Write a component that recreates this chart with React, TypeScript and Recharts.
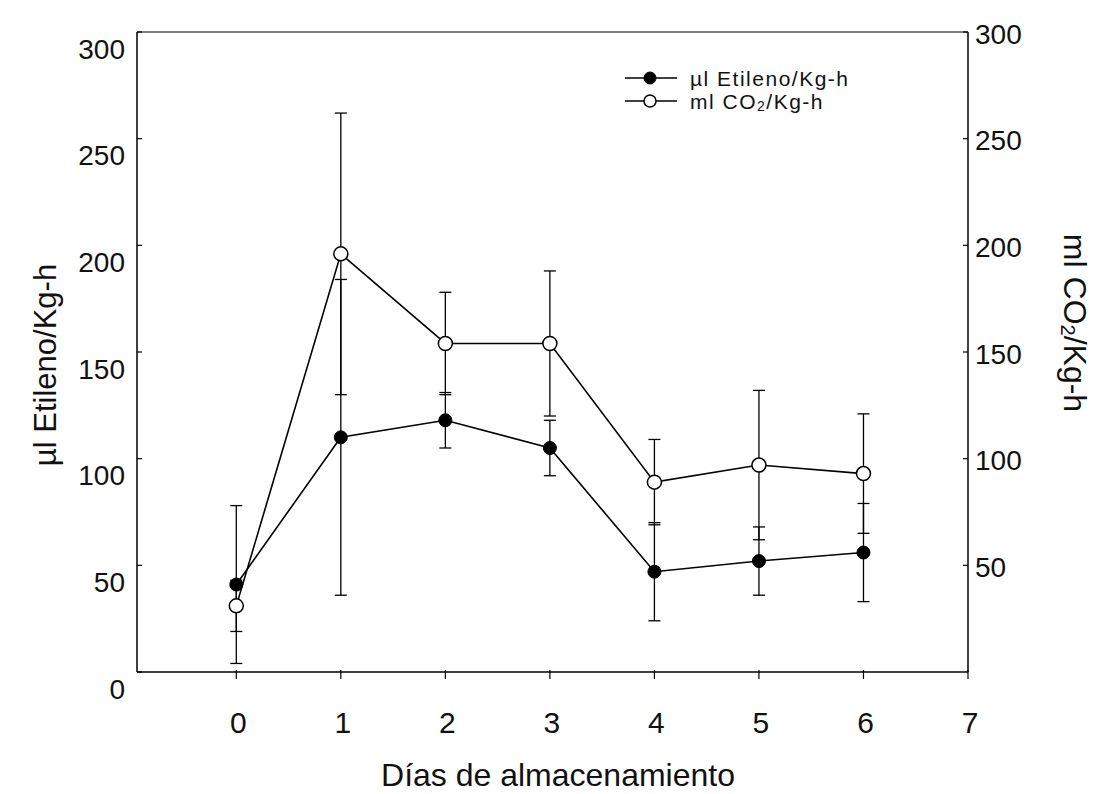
import React from 'react';
import { ComposedChart, Line, XAxis, YAxis, ErrorBar, ReferenceLine } from 'recharts';

const days = [0, 1, 2, 3, 4, 5, 6];
const etileno = [41, 110, 118, 105, 47, 52, 56];
const etilenoErr = [37, 74, 13, 13, 23, 16, 23];
const co2 = [31, 196, 154, 154, 89, 97, 93];
const co2Err = [12, 66, 24, 34, 20, 35, 28];
const xTicks = [0, 1, 2, 3, 4, 5, 6, 7];
const leftTicks = [0, 50, 100, 150, 200, 250, 300];
const rightTicks = [50, 100, 150, 200, 250, 300];

const xTitle = 'Días de almacenamiento';
const leftTitle = 'µl Etileno/Kg-h';
const legendEtileno = 'µl Etileno/Kg-h';

const data = days.map((d, i) => ({
  day: d,
  etileno: etileno[i],
  etilenoErr: etilenoErr[i],
  co2: co2[i],
  co2Err: co2Err[i],
}));

const FONT = '"Liberation Sans", Arial, Helvetica, sans-serif';

const LeftTick = (props: any) => {
  const { x, y, payload } = props;
  return (
    <g>
      <line x1={x} y1={y} x2={x + 5} y2={y} stroke="#000" strokeWidth={1.2} />
      <text x={x - 12} y={y + 17} textAnchor="end" dominantBaseline="central" fontSize={28} fontFamily={FONT} fill="#111">
        {payload.value}
      </text>
    </g>
  );
};

const RightTick = (props: any) => {
  const { x, y, payload } = props;
  return (
    <g>
      <line x1={x - 5} y1={y} x2={x} y2={y} stroke="#000" strokeWidth={1.2} />
      <text x={x + 7} y={y + 2} textAnchor="start" dominantBaseline="central" fontSize={28} fontFamily={FONT} fill="#111">
        {payload.value}
      </text>
    </g>
  );
};

const BottomTick = (props: any) => {
  const { x, y, payload } = props;
  return (
    <g>
      <line x1={x} y1={y - 2} x2={x} y2={y + 7} stroke="#000" strokeWidth={1.2} />
      <text x={x + 2} y={y + 50} textAnchor="middle" dominantBaseline="central" fontSize={30} fontFamily={FONT} fill="#111">
        {payload.value}
      </text>
    </g>
  );
};

const Titles = () => (
  <g fontFamily={FONT} fill="#111">
    <text x={550} y={767} textAnchor="middle" dominantBaseline="central" fontSize={32}>
      {xTitle}
    </text>
    <text x={37} y={357} textAnchor="middle" dominantBaseline="central" fontSize={31} transform="rotate(-90 37 357)">
      {leftTitle}
    </text>
    <text x={1067} y={315} textAnchor="middle" dominantBaseline="central" fontSize={32} transform="rotate(90 1067 315)">
      <tspan>ml CO</tspan>
      <tspan dy={7} fontSize={20}>2</tspan>
      <tspan dy={-7}>/Kg-h</tspan>
    </text>
  </g>
);

const LegendBox = () => (
  <g fontFamily={FONT} fill="#111">
    <line x1={617} y1={70} x2={669} y2={70} stroke="#000" strokeWidth={1.5} />
    <circle cx={642} cy={70} r={6} fill="#000" stroke="#000" />
    <text x={682} y={70} dominantBaseline="central" fontSize={21} letterSpacing={1.5}>
      {legendEtileno}
    </text>
    <line x1={617} y1={93} x2={669} y2={93} stroke="#000" strokeWidth={1.5} />
    <circle cx={642} cy={93} r={6} fill="#fff" stroke="#000" strokeWidth={1.5} />
    <text x={682} y={93} dominantBaseline="central" fontSize={21} letterSpacing={1.5}>
      <tspan>ml CO</tspan>
      <tspan dy={5} fontSize={14}>2</tspan>
      <tspan dy={-5}>/Kg-h</tspan>
    </text>
  </g>
);

export default function App() {
  return (
    <div style={{ width: 1092, height: 786, background: '#fff' }}>
      <ComposedChart
        width={1092}
        height={786}
        data={data}
        margin={{ top: 24, right: 42, bottom: 0, left: 0 }}
      >
        <XAxis
          dataKey="day"
          type="number"
          domain={[-0.95, 7]}
          ticks={xTicks}
          allowDataOverflow
          height={122}
          tickSize={0}
          tickMargin={0}
          tickLine={false}
          axisLine={{ stroke: '#000', strokeWidth: 1.5 }}
          tick={<BottomTick />}
          interval={0}
        />
        <YAxis
          yAxisId="left"
          orientation="left"
          domain={[0, 300]}
          ticks={leftTicks}
          width={129}
          tickSize={0}
          tickMargin={0}
          tickLine={false}
          axisLine={{ stroke: '#000', strokeWidth: 1.5 }}
          tick={<LeftTick />}
          interval={0}
        />
        <YAxis
          yAxisId="right"
          orientation="right"
          domain={[0, 300]}
          ticks={rightTicks}
          width={90}
          tickSize={0}
          tickMargin={0}
          tickLine={false}
          axisLine={{ stroke: '#000', strokeWidth: 1.5 }}
          tick={<RightTick />}
          interval={0}
        />
        <ReferenceLine yAxisId="left" y={300} stroke="#000" strokeWidth={1.2} />
        <Line
          yAxisId="left"
          dataKey="etileno"
          stroke="#000"
          strokeWidth={1.6}
          dot={{ r: 6.5, fill: '#000', stroke: '#000', strokeWidth: 1 }}
          isAnimationActive={false}
        >
          <ErrorBar dataKey="etilenoErr" width={6} stroke="#000" strokeWidth={1.3} direction="y" />
        </Line>
        <Line
          yAxisId="right"
          dataKey="co2"
          stroke="#000"
          strokeWidth={1.6}
          dot={{ r: 7, fill: '#fff', stroke: '#000', strokeWidth: 1.5 }}
          isAnimationActive={false}
        >
          <ErrorBar dataKey="co2Err" width={6} stroke="#000" strokeWidth={1.3} direction="y" />
        </Line>
        <Titles />
        <LegendBox />
      </ComposedChart>
    </div>
  );
}
